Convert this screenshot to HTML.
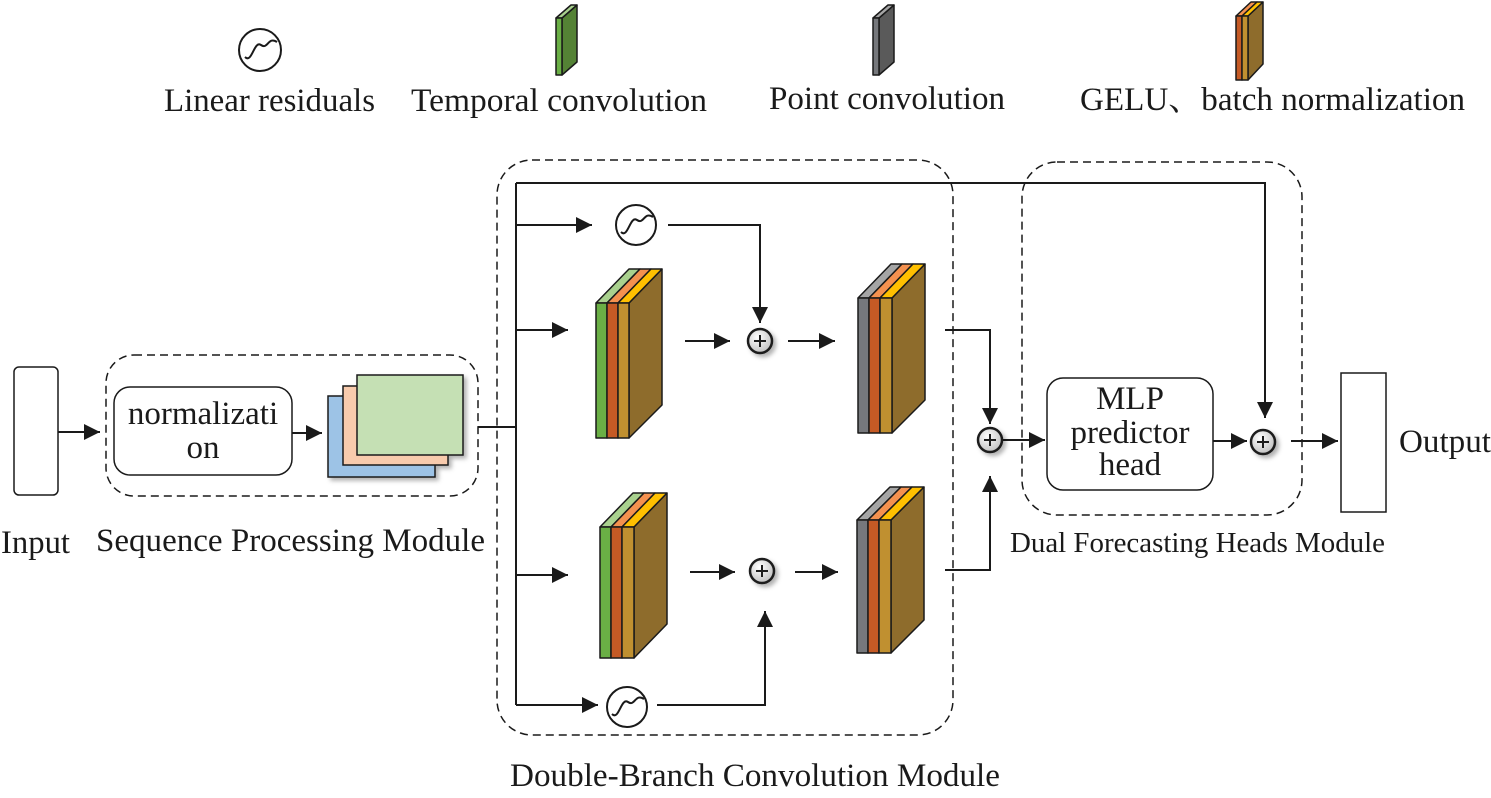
<!DOCTYPE html>
<html><head><meta charset="utf-8"><style>
html,body{margin:0;padding:0;background:#fff}
svg{display:block}
text{font-family:"Liberation Serif","Noto Serif CJK SC",serif;fill:#1a1a1a}
</style></head><body>
<svg width="1491" height="798" viewBox="0 0 1491 798" xmlns="http://www.w3.org/2000/svg">
<defs>
<marker id="a" viewBox="0 0 10 10" refX="10" refY="5" markerWidth="16" markerHeight="16" markerUnits="userSpaceOnUse" orient="auto"><path d="M0,0 L10,5 L0,10 z" fill="#1a1a1a"/></marker>
<radialGradient id="pg" cx="0.4" cy="0.35" r="0.7"><stop offset="0" stop-color="#fff"/><stop offset="1" stop-color="#bdbdbd"/></radialGradient>
<filter id="sh" x="-30%" y="-30%" width="160%" height="160%"><feDropShadow dx="3" dy="3" stdDeviation="2" flood-opacity="0.3"/></filter>
</defs>
<g stroke="#1a1a1a" fill="none" stroke-width="2">
<rect x="106" y="355" width="372" height="141" rx="28" stroke-dasharray="8,5" stroke-width="1.5"/>
<rect x="497" y="160" width="456" height="575" rx="35" stroke-dasharray="8,5" stroke-width="1.5"/>
<rect x="1022" y="162" width="280" height="353" rx="35" stroke-dasharray="8,5" stroke-width="1.5"/>
<rect x="14" y="367" width="44" height="128" rx="5" stroke-width="1.5"/>
<rect x="1341" y="373" width="45" height="139" stroke-width="1.5"/>
<rect x="114" y="387" width="178" height="88" rx="16" stroke-width="1.5"/>
<rect x="1047" y="378" width="166" height="112" rx="16" stroke-width="1.5"/>
<line x1="58" y1="432" x2="100" y2="432" marker-end="url(#a)"/>
<line x1="292" y1="433" x2="322" y2="433" marker-end="url(#a)"/>
<polyline points="478,427 516,427"/>
<line x1="516" y1="183" x2="516" y2="705"/>
<polyline points="516,183 1265,183 1265,418" marker-end="url(#a)"/>
<line x1="516" y1="225" x2="592" y2="225" marker-end="url(#a)"/>
<line x1="516" y1="330" x2="568" y2="330" marker-end="url(#a)"/>
<line x1="516" y1="575" x2="568" y2="575" marker-end="url(#a)"/>
<line x1="516" y1="705" x2="598" y2="705" marker-end="url(#a)"/>
<polyline points="668,225 760,225 760,323" marker-end="url(#a)"/>
<line x1="685" y1="341" x2="730" y2="341" marker-end="url(#a)"/>
<line x1="788" y1="341" x2="835" y2="341" marker-end="url(#a)"/>
<line x1="690" y1="572" x2="735" y2="572" marker-end="url(#a)"/>
<line x1="795" y1="572" x2="838" y2="572" marker-end="url(#a)"/>
<polyline points="657,705 765,705 765,611" marker-end="url(#a)"/>
<polyline points="945,330 990,330 990,424" marker-end="url(#a)"/>
<polyline points="945,570 990,570 990,476" marker-end="url(#a)"/>
<line x1="1003" y1="440" x2="1045" y2="440" marker-end="url(#a)"/>
<line x1="1213" y1="441" x2="1247" y2="441" marker-end="url(#a)"/>
<line x1="1291" y1="441" x2="1338" y2="441" marker-end="url(#a)"/>
</g>
<g stroke="#1a1a1a" stroke-width="1.5" filter="url(#sh)">
<rect x="328" y="396" width="107" height="81" fill="#9dc3e6"/>
<rect x="343" y="386" width="105" height="79" fill="#f8cbad"/>
<rect x="357" y="375" width="106" height="80" fill="#c5e0b4"/>
</g>
<g stroke="#1a1a1a" stroke-width="2" fill="#fff">
<circle cx="260" cy="50" r="21"/><path d="M245,57 C252,64 254,40 261,45 C268,50 268,36 277,42" fill="none"/>
<circle cx="636" cy="225" r="20"/><path d="M621,232 C628,239 630,215 637,220 C644,225 644,211 653,217" fill="none"/>
<circle cx="627" cy="707" r="20"/><path d="M612,714 C619,721 621,697 628,702 C635,707 635,693 644,699" fill="none"/>
</g>
<g stroke="#1a1a1a" stroke-width="2.5" filter="url(#sh)">
<g fill="url(#pg)"><circle cx="760" cy="341" r="12"/><circle cx="762" cy="571" r="12"/><circle cx="990" cy="440" r="12"/><circle cx="1263" cy="442" r="12"/></g>
<path d="M754,341h12M760,335v12 M756,571h12M762,565v12 M984,440h12M990,434v12 M1257,442h12M1263,436v12" stroke-width="2"/>
</g>
<g stroke="#1a1a1a" stroke-width="1.5" stroke-linejoin="round">
<polygon points="629,303 662,269 662,405 629,438" fill="#8e6c2c"/>
<polygon points="596,303 629,269 640,269 607,303" fill="#a9d18e"/>
<polygon points="607,303 640,269 651,269 618,303" fill="#f4914f"/>
<polygon points="618,303 651,269 662,269 629,303" fill="#ffc000"/>
<rect x="596" y="303" width="11" height="135" fill="#6aaf45"/><rect x="607" y="303" width="11" height="135" fill="#c55a25"/><rect x="618" y="303" width="11" height="135" fill="#c09030"/>
<polygon points="892,298 925,264 925,400 892,433" fill="#8e6c2c"/>
<polygon points="858,298 891,264 902,264 869,298" fill="#a5a5a5"/>
<polygon points="869,298 902,264 913,264 880,298" fill="#f4914f"/>
<polygon points="880,298 913,264 925,264 892,298" fill="#ffc000"/>
<rect x="858" y="298" width="11" height="135" fill="#76787c"/><rect x="869" y="298" width="11" height="135" fill="#c55a25"/><rect x="880" y="298" width="12" height="135" fill="#c09030"/>
<polygon points="634,527 667,493 667,624 634,658" fill="#8e6c2c"/>
<polygon points="600,527 633,493 644,493 611,527" fill="#a9d18e"/>
<polygon points="611,527 644,493 655,493 622,527" fill="#f4914f"/>
<polygon points="622,527 655,493 667,493 634,527" fill="#ffc000"/>
<rect x="600" y="527" width="11" height="131" fill="#6aaf45"/><rect x="611" y="527" width="11" height="131" fill="#c55a25"/><rect x="622" y="527" width="12" height="131" fill="#c09030"/>
<polygon points="891,520 924,487 924,620 891,653" fill="#8e6c2c"/>
<polygon points="857,520 890,487 901,487 868,520" fill="#a5a5a5"/>
<polygon points="868,520 901,487 912,487 879,520" fill="#f4914f"/>
<polygon points="879,520 912,487 924,487 891,520" fill="#ffc000"/>
<rect x="857" y="520" width="11" height="133" fill="#76787c"/><rect x="868" y="520" width="11" height="133" fill="#c55a25"/><rect x="879" y="520" width="12" height="133" fill="#c09030"/>
<polygon points="562,18 577,5 577,62 562,75" fill="#548235"/>
<polygon points="556,18 571,5 577,5 562,18" fill="#a9d18e"/>
<rect x="556" y="18" width="6" height="57" fill="#6aaf45"/>
<polygon points="879,18 894,5 894,62 879,75" fill="#5a5a5a"/>
<polygon points="873,18 888,5 894,5 879,18" fill="#a5a5a5"/>
<rect x="873" y="18" width="6" height="57" fill="#76787c"/>
<polygon points="1248,16 1263,2 1263,64 1248,80" fill="#8e6c2c"/>
<polygon points="1236,16 1251,2 1257,2 1242,16" fill="#f4914f"/>
<polygon points="1242,16 1257,2 1263,2 1248,16" fill="#ffc000"/>
<rect x="1236" y="16" width="6" height="64" fill="#c55a25"/><rect x="1242" y="16" width="6" height="64" fill="#c09030"/>
</g>
<g font-size="33">
<text x="164" y="111" textLength="211" lengthAdjust="spacingAndGlyphs">Linear residuals</text>
<text x="411" y="111" textLength="296" lengthAdjust="spacingAndGlyphs">Temporal convolution</text>
<text x="769" y="109" textLength="236" lengthAdjust="spacingAndGlyphs">Point convolution</text>
<text x="1080" y="110" textLength="385" lengthAdjust="spacingAndGlyphs">GELU、batch normalization</text>
<text x="203" y="424" text-anchor="middle">normalizati</text>
<text x="203" y="458" text-anchor="middle">on</text>
<text x="1130" y="409" text-anchor="middle">MLP</text>
<text x="1130" y="443" text-anchor="middle">predictor</text>
<text x="1130" y="475" text-anchor="middle">head</text>
<text x="1" y="553" textLength="69" lengthAdjust="spacingAndGlyphs">Input</text>
<text x="96" y="551" textLength="389" lengthAdjust="spacingAndGlyphs">Sequence Processing Module</text>
<text x="1399" y="452" textLength="92" lengthAdjust="spacingAndGlyphs">Output</text>
<text x="510" y="786" textLength="490" lengthAdjust="spacingAndGlyphs">Double-Branch Convolution Module</text>
</g>
<text x="1010" y="552" font-size="29" textLength="375" lengthAdjust="spacingAndGlyphs">Dual Forecasting Heads Module</text>
</svg>
</body></html>
